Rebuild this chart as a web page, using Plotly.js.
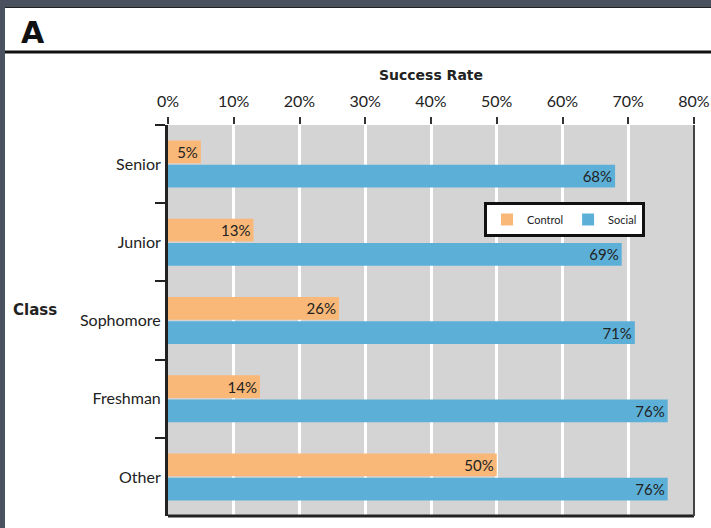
<!DOCTYPE html>
<html><head><meta charset="utf-8">
<script src="https://cdn.plot.ly/plotly-3.0.1.min.js"></script>
<style>
html,body{margin:0;padding:0;background:#4a525f;width:711px;height:528px;overflow:hidden;}
#chart{position:absolute;left:5px;top:7px;width:706px;height:521px;background:#fff;}
</style></head><body>
<div id="chart"></div>
<script>
const categories = ["Senior","Junior","Sophomore","Freshman","Other"];
const controlValues = [5,13,26,14,50];
const socialValues = [68,69,71,76,76];
const seriesNames = ["Control","Social"];

const W=706,H=521;
const m={l:163,r:17,t:118,b:12};
const pw=W-m.l-m.r, ph=H-m.t-m.b;
// convert page coordinates to paper coordinates (div offset 5,7)
const px = v => (v - 5 - m.l)/pw;
const py = v => 1 - (v - 7 - m.t)/ph;

const font = "Lato, 'Open Sans', sans-serif";
const bold = "'DejaVu Sans', sans-serif";
const common = {type:'bar',orientation:'h',y:categories,
  texttemplate:'%{x:.0f}%',textposition:'inside',insidetextanchor:'end',textangle:0,
  constraintext:'none',textfont:{family:font,size:15,color:'#222'},hoverinfo:'skip'};
const data=[
  Object.assign({},common,{name:seriesNames[0],x:controlValues,marker:{color:'#f9b877'}}),
  Object.assign({},common,{name:seriesNames[1],x:socialValues,marker:{color:'#5cb0d8'}})
];
const layout={
  width:W,height:H,margin:m,paper_bgcolor:'#fff',plot_bgcolor:'#d4d4d4',
  font:{family:font,color:'#222'},
  barmode:'group',bargap:0.38,bargroupgap:0.06,
  xaxis:{side:'top',range:[0,80],dtick:10,ticksuffix:'%',showgrid:true,gridcolor:'#fff',gridwidth:3,
    zeroline:false,showline:false,ticks:'outside',ticklen:7,tickwidth:2,tickcolor:'#333',ticklabelstandoff:4,
    tickfont:{size:16,family:font,color:'#222'},
    title:{text:'<b>Success Rate</b>',font:{size:14,family:bold,color:'#222'},standoff:6}},
  yaxis:{autorange:'reversed',type:'category',tickson:'boundaries',ticks:'outside',ticklen:10,tickwidth:2,tickcolor:'#222',
    showline:true,linewidth:3,linecolor:'#222',showgrid:false,tickfont:{size:16,family:font,color:'#222'},ticklabelstandoff:1},
  legend:{orientation:'h',x:px(484),y:py(202),xanchor:'left',yanchor:'top',bgcolor:'#fff',bordercolor:'#111',borderwidth:3,
    font:{size:11,family:font,color:'#222'},itemwidth:30,traceorder:'normal',tracegroupgap:0},
  shapes:[
    {type:'line',xref:'paper',yref:'paper',x0:0,x1:1,y0:0,y1:0,line:{color:'#222',width:3}},
    {type:'line',xref:'paper',yref:'paper',x0:1,x1:1,y0:0,y1:1,line:{color:'#444',width:2}},
    {type:'line',xref:'paper',yref:'paper',x0:px(0),x1:px(720),y0:py(52),y1:py(52),line:{color:'#111',width:3}},
    {type:'line',xref:'paper',yref:'paper',x0:px(0),x1:px(720),y0:py(7),y1:py(7),line:{color:'#222',width:2}}
  ],
  annotations:[
    {xref:'paper',yref:'paper',x:px(19),y:py(33),xanchor:'left',yanchor:'middle',showarrow:false,
      text:'<b>A</b>',font:{size:30,family:bold,color:'#111'}},
    {xref:'paper',yref:'paper',x:px(35),y:py(310),xanchor:'center',yanchor:'middle',showarrow:false,
      text:'<b>Class</b>',font:{size:15,family:bold,color:'#222'}}
  ]
};
Plotly.newPlot('chart',data,layout,{displayModeBar:false,staticPlot:true});
</script></body></html>
